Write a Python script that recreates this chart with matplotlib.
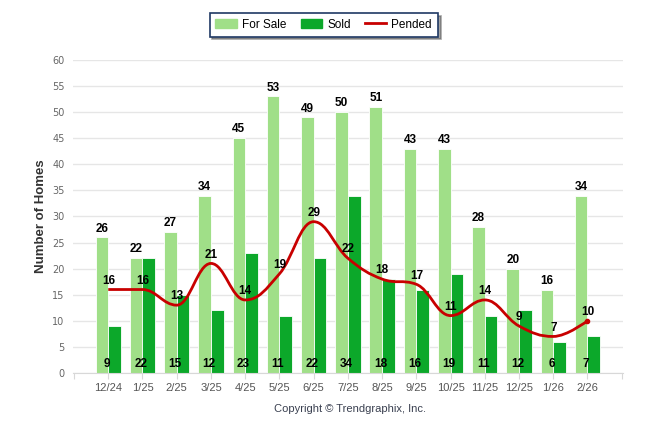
import numpy as np
import matplotlib
matplotlib.use('Agg')
import matplotlib.pyplot as plt
from matplotlib.path import Path
from matplotlib.patches import PathPatch, Patch
from matplotlib.lines import Line2D

months = ['12/24', '1/25', '2/25', '3/25', '4/25', '5/25', '6/25', '7/25',
          '8/25', '9/25', '10/25', '11/25', '12/25', '1/26', '2/26']
for_sale = [26, 22, 27, 34, 45, 53, 49, 50, 51, 43, 43, 28, 20, 16, 34]
sold = [9, 22, 15, 12, 23, 11, 22, 34, 18, 16, 19, 11, 12, 6, 7]
pended = [16, 16, 13, 21, 14, 19, 29, 22, 18, 17, 11, 14, 9, 7, 10]

c_sale = '#a0df88'
c_sold = '#0ca82a'
c_pend = '#c80000'

plt.rcParams['font.family'] = ['Liberation Sans', 'DejaVu Sans']


def spline_path(xs, ys, smoothing=1.5):
    # bezier spline, same control point rule as the web chart library
    n = len(xs)
    denom = smoothing + 1
    lc = [(xs[i], ys[i]) for i in range(n)]
    rc = [(xs[i], ys[i]) for i in range(n)]
    for i in range(1, n - 1):
        px, py = xs[i], ys[i]
        lx = (smoothing * px + xs[i - 1]) / denom
        ly = (smoothing * py + ys[i - 1]) / denom
        rx = (smoothing * px + xs[i + 1]) / denom
        ry = (smoothing * py + ys[i + 1]) / denom
        corr = 0
        if rx != lx:
            corr = ((ry - ly) * (rx - px)) / (rx - lx) + py - ry
        ly += corr
        ry += corr
        if ly > ys[i - 1] and ly > py:
            ly = max(ys[i - 1], py); ry = 2 * py - ly
        elif ly < ys[i - 1] and ly < py:
            ly = min(ys[i - 1], py); ry = 2 * py - ly
        if ry > ys[i + 1] and ry > py:
            ry = max(ys[i + 1], py); ly = 2 * py - ry
        elif ry < ys[i + 1] and ry < py:
            ry = min(ys[i + 1], py); ly = 2 * py - ry
        lc[i] = (lx, ly)
        rc[i] = (rx, ry)
    verts = [(xs[0], ys[0])]
    codes = [Path.MOVETO]
    for i in range(1, n):
        verts += [rc[i - 1], lc[i], (xs[i], ys[i])]
        codes += [Path.CURVE4] * 3
    return Path(verts, codes)


fig = plt.figure(figsize=(6.46, 4.34), dpi=100)
ax = fig.add_axes([0.113, 0.1406, 0.851, 0.7212])

x = np.arange(len(months))
w = 0.37
ax.bar(x - w / 2, for_sale, w, color=c_sale, edgecolor='white', lw=0.6, zorder=2)
ax.bar(x + w / 2, sold, w, color=c_sold, edgecolor='white', lw=0.6, zorder=2)
ax.add_patch(PathPatch(spline_path(list(x), pended), facecolor='none',
                       edgecolor=c_pend, lw=2, zorder=3))
ax.plot(x[-1], pended[-1], 'o', color=c_pend, ms=3, zorder=3)

lbl = dict(fontsize=8.5, fontweight='bold', color='black', ha='center',
           va='bottom', textcoords='offset points', zorder=5)
for i in x:
    ax.annotate(str(for_sale[i]), (i - w / 2, for_sale[i]), xytext=(0, 2), **lbl)
    ax.annotate(str(sold[i]), (i - 0.05, 0), xytext=(0, 2), **lbl)
    ax.annotate(str(pended[i]), (i, pended[i]), xytext=(0, 2), **lbl)

ax.set_xlim(-1.03, 15.03)
ax.set_ylim(0, 60)
ax.set_yticks(range(0, 61, 5))
ax.set_xticks(range(-1, 16))
ax.set_xticklabels([''] + months + [''])
ax.grid(axis='y', color='#e6e6e6', lw=1, zorder=0)
ax.set_axisbelow(True)
for s in ['top', 'right', 'left']:
    ax.spines[s].set_visible(False)
ax.spines['bottom'].set_color('#d8d8d8')
ax.tick_params(axis='x', length=4, color='#d8d8d8', labelsize=8,
               labelcolor='#555555', pad=3)
ax.tick_params(axis='y', length=0, labelsize=7, labelcolor='#666666', pad=6)
for t in ax.get_yticklabels():
    t.set_family(['Liberation Sans Narrow', 'DejaVu Sans'])

ax.set_ylabel('Number of Homes', fontsize=9.5, fontweight='bold',
              color='#333333', labelpad=4)

handles = [Patch(color=c_sale, label='For Sale'),
           Patch(color=c_sold, label='Sold'),
           Line2D([0], [0], color=c_pend, lw=2, label='Pended')]
leg = fig.legend(handles=handles, loc='center', bbox_to_anchor=(0.501, 0.943),
                 ncol=3, fontsize=8.5, frameon=True, fancybox=False, shadow=True,
                 handlelength=1.8, handleheight=0.8, columnspacing=1.2,
                 borderpad=0.5, handletextpad=0.45)
leg.get_frame().set_edgecolor('#1f3864')
leg.get_frame().set_linewidth(1.2)

fig.text(0.542, 0.057, 'Copyright \u00a9 Trendgraphix, Inc.', ha='center',
         va='center', fontsize=8, color='#3a4050')

fig.savefig('out.png', dpi=100)
